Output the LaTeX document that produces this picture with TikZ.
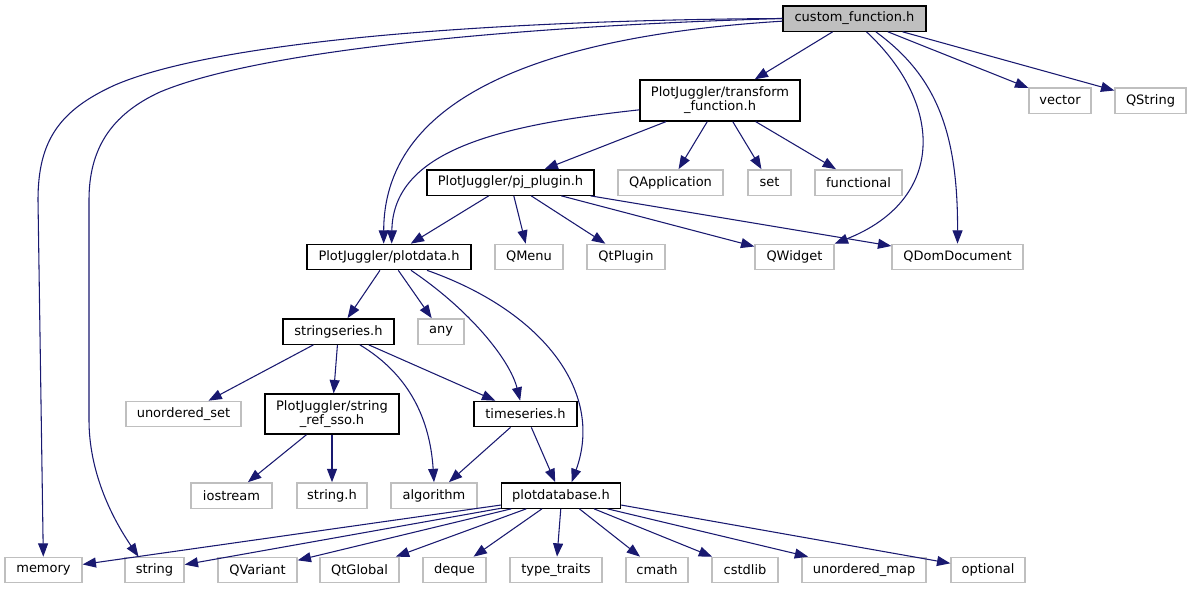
\documentclass[tikz,border=0pt]{standalone}
\usepackage{fontspec}
\setmainfont{DejaVu Sans}
\usetikzlibrary{arrows.meta}
\definecolor{edgeblue}{HTML}{191970}
\definecolor{boxgray}{HTML}{BFBFBF}

\begin{document}
\begin{tikzpicture}[x=0.75pt, y=-0.75pt,
    every node/.style={font=\fontsize{9.75pt}{10.5pt}\selectfont, inner sep=0pt, minimum height=19pt},
    filebox/.style={draw=black, line width=1pt, minimum width=#1*0.75pt},
    sysbox/.style={draw=boxgray, line width=1pt, minimum width=#1*0.75pt},
    rootbox/.style={filebox=#1, fill=boxgray},
    incl/.style={draw=edgeblue, line width=0.8pt, -{Triangle[length=10pt, width=7.5pt]}}]
  \useasboundingbox (0,0) rectangle (1191,589);

  \node[rootbox=143] (cf) at (854.5,18.5) {custom\_function.h};
  \node[filebox=160, minimum height=30.75pt, align=center] (tf) at (720,100.5) {PlotJuggler/transform\\\_function.h};
  \node[sysbox=62] (vec) at (1060,100.5) {vector};
  \node[sysbox=71] (qs) at (1150.5,100.5) {QString};
  \node[filebox=167] (pj) at (510.5,182.5) {PlotJuggler/pj\_plugin.h};
  \node[sysbox=105] (qa) at (670.5,182.5) {QApplication};
  \node[sysbox=43] (set) at (769.5,182.5) {set};
  \node[sysbox=87] (fn) at (858.5,182.5) {functional};
  \node[filebox=164] (pd) at (389,257) {PlotJuggler/plotdata.h};
  \node[sysbox=68] (qm) at (529,257) {QMenu};
  \node[sysbox=78] (qp) at (626,257) {QtPlugin};
  \node[sysbox=79] (qw) at (794.5,257) {QWidget};
  \node[sysbox=131] (qd) at (957.5,257) {QDomDocument};
  \node[filebox=111] (ss) at (338.5,331.5) {stringseries.h};
  \node[sysbox=46] (any) at (441,331.5) {any};
  \node[sysbox=115] (us) at (183.5,414) {unordered\_set};
  \node[filebox=134, minimum height=30pt, align=center] (sso) at (332,414) {PlotJuggler/string\\\_ref\_sso.h};
  \node[filebox=103] (ts) at (525.5,414) {timeseries.h};
  \node[sysbox=81] (ios) at (231.5,495.5) {iostream};
  \node[sysbox=70] (sh) at (332,495.5) {string.h};
  \node[sysbox=86] (alg) at (434,495.5) {algorithm};
  \node[filebox=119] (pdb) at (561,495.5) {plotdatabase.h};

  % bottom row, all included by plotdatabase.h
  \foreach \n/\x/\w/\t in {mem/43.5/77/memory, str/154.5/59/string, qv/257.5/79/QVariant,
      qg/359.5/79/QtGlobal, dq/454.5/63/deque, tt/556/92/type\_traits, cm/657/62/cmath,
      cs/745/66/cstdlib, um/864/124/unordered\_map, op/988/74/optional}
    \node[sysbox=\w] (\n) at (\x,570) {\t};

  % straight includes
  \foreach \a/\b in {cf/tf, cf/vec, cf/qs, tf/pj, tf/qa, tf/set, tf/fn,
      pj/pd, pj/qm, pj/qp, pj/qw, pj/qd, pd/ss, pd/any,
      ss/us, ss/sso, ss/ts, sso/ios, sso/sh, ts/alg, ts/pdb}
    \draw[incl] (\a) -- (\b);
  \foreach \n/\a in {mem/-171, str/-168, qv/-165.7, qg/-159.6, dq/-145.8,
      tt/-91, cm/-36.9, cs/-22.5, um/-16.3, op/-9}
    \draw[incl] (pdb.\a) -- (\n);

  % bent includes
  \draw[incl] (cf.west) .. controls (500,20) and (220,40) .. (115,85)
    .. controls (60,110) and (38,140) .. (38,200) -- (mem);
  \draw[incl] (cf.west) .. controls (520,26) and (260,50) .. (160,92)
    .. controls (110,115) and (89,150) .. (89,200) -- (89,420)
    .. controls (89,470) and (110,515) .. ([xshift=-12pt]str.north);
  \draw[incl] ([yshift=-2pt]cf.west) .. controls (560,35) and (384,90) .. ([xshift=-4pt]pd.north);
  \draw[incl] ([yshift=-7pt]tf.west) .. controls (500,125) and (393,150) .. ([xshift=2pt]pd.north);
  \draw[incl] ([xshift=9pt]cf.south) .. controls (945,105) and (945,200) .. (qw.north east);
  \draw[incl] ([xshift=16pt]cf.south) .. controls (935,75) and (958,130) .. (qd.north);
  \draw[incl] ([xshift=16.5pt]pd.south) .. controls (470,310) and (510,360) .. ([xshift=-4pt]ts.north);
  \draw[incl] ([xshift=28.5pt]pd.south) .. controls (540,310) and (605,390) .. ([xshift=8pt]pdb.north);
  \draw[incl] ([xshift=16pt]ss.south) .. controls (410,375) and (430,420) .. (alg.north);
\end{tikzpicture}
\end{document}
